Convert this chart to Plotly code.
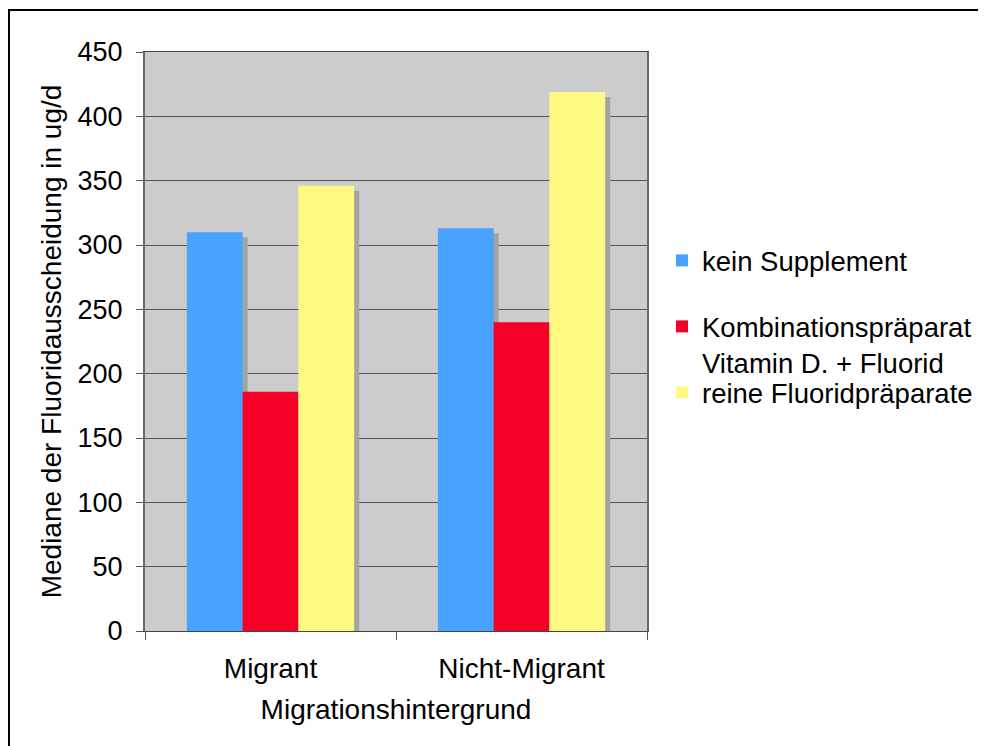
import plotly.graph_objects as go

categories = ["Migrant", "Nicht-Migrant"]
series_names = ["kein Supplement", "Kombinationspräparat<br>Vitamin D. + Fluorid", "reine Fluoridpräparate"]
kein_supplement = [310, 313]
kombination = [186, 240]
rein_fluorid = [346, 419]
y_ticks = [0, 50, 100, 150, 200, 250, 300, 350, 400, 450]

series_values = [kein_supplement, kombination, rein_fluorid]
colors = ["#48a2ff", "#f50028", "#fff982"]
offsets = [-1/3, -1/9, 1/9]
legend_ids = ["legend", "legend2", "legend3"]
bar_w = 2/9
shadow_dx = 0.02
shadow_dy = 3.9

FONT = "Liberation Sans, Arial, sans-serif"
FS = 28
LFS = 27.5

W, H = 978, 738  # page body has an 8px margin
fig = go.Figure()
# shadows
for vals, off in zip(series_values, offsets):
    fig.add_trace(go.Bar(
        x=categories, y=[v - shadow_dy for v in vals], offset=off + shadow_dx, width=bar_w,
        marker=dict(color="#a3a3a3", line=dict(width=0)), showlegend=False, hoverinfo="skip"))
# bars
for name, vals, off, c, lg in zip(series_names, series_values, offsets, colors, legend_ids):
    fig.add_trace(go.Bar(
        x=categories, y=vals, offset=off, width=bar_w, name=name, legend=lg,
        marker=dict(color=c, line=dict(width=0))))

def legend_at(top):
    return dict(xref="container", yref="container",
                x=654/W, y=1 - top/H, xanchor="left", yanchor="top",
                valign="top", bgcolor="rgba(0,0,0,0)", font=dict(size=LFS))

fig.update_layout(
    width=W, height=H,
    barmode="overlay",
    paper_bgcolor="white",
    plot_bgcolor="#cccccc",
    margin=dict(l=137, r=339, t=44, b=H - 623, autoexpand=False),
    font=dict(family=FONT, size=FS, color="black"),
    showlegend=True,
    legend=legend_at(228),
    legend2=legend_at(294),
    legend3=legend_at(360),
    shapes=[dict(type="rect", xref="paper", yref="paper",
                 x0=(1 - 137)/502, x1=2.0, y0=-1.0, y1=1 + (44 - 2)/579,
                 line=dict(color="black", width=2), fillcolor="rgba(0,0,0,0)", layer="above")],
)

fig.update_yaxes(
    range=[0, 450], tickvals=y_ticks, ticktext=[str(v) for v in y_ticks],
    tickfont=dict(size=27),
    showgrid=True, gridcolor="#555555", gridwidth=1,
    showline=True, linecolor="#6a6a6a", linewidth=2, mirror=True,
    ticks="outside", ticklen=7, tickcolor="#555555", ticklabelstandoff=8,
    zeroline=False,
    title=dict(text="Mediane der Fluoridausscheidung in ug/d", standoff=8, font=dict(size=FS)),
    automargin=False,
)
fig.update_xaxes(
    type="category", showline=True, linecolor="#444444", linewidth=1, mirror=True,
    ticks="outside", ticklen=8, tickson="boundaries", tickcolor="#555555",
    ticklabelstandoff=12,
    title=dict(text="Migrationshintergrund", standoff=16, font=dict(size=FS)),
    automargin=False,
)

fig.write_html("out.html")
